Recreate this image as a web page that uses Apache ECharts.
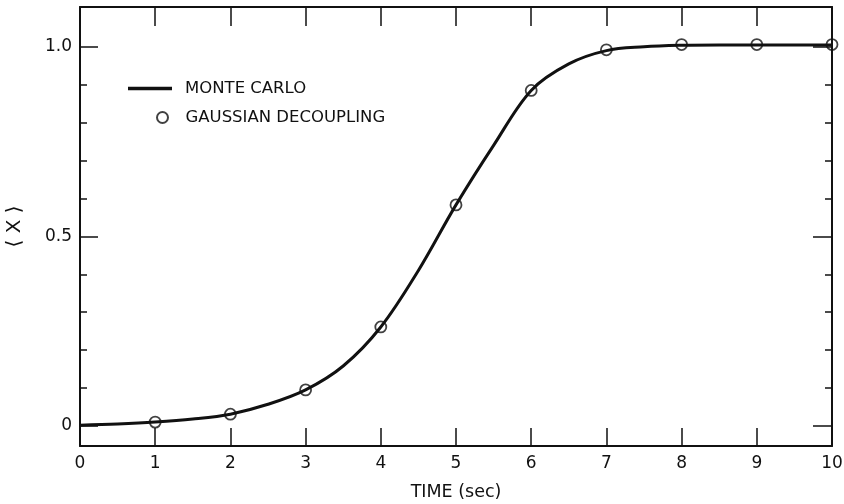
<!DOCTYPE html>
<html>
<head>
<meta charset="utf-8">
<title>&lt;X&gt; vs time</title>
<script src="https://cdn.jsdelivr.net/npm/echarts@6/dist/echarts.min.js"></script>
<style>
  html, body { margin: 0; padding: 0; background: #fff; }
  #chart { width: 844px; height: 504px; }
</style>
</head>
<body>
<div id="chart"></div>
<script>
// Monte Carlo mean <X>(t), sampled every 0.5 s
const mcTime = [0, 0.5, 1, 1.5, 2, 2.5, 3, 3.5, 4, 4.5, 5, 5.5, 6, 6.5, 7, 7.5, 8, 8.5, 9, 9.5, 10];
const mcMean = [0.002, 0.005, 0.010, 0.018, 0.031, 0.057, 0.095, 0.158, 0.261, 0.410, 0.583, 0.740, 0.885, 0.955, 0.990, 1.000, 1.004, 1.005, 1.005, 1.005, 1.005];

// Gaussian decoupling approximation, one point per second
const gdTime = [1, 2, 3, 4, 5, 6, 7, 8, 9, 10];
const gdMean = [0.010, 0.031, 0.095, 0.261, 0.583, 0.885, 0.992, 1.006, 1.006, 1.006];

// Axis ticks
const yMajorTicks = [0, 0.5, 1.0];
const yMinorTicks = [0.1, 0.2, 0.3, 0.4, 0.6, 0.7, 0.8, 0.9];
const Y_MIN = -0.053, Y_MAX = 1.105;

const INK = '#111';
const FONT = 'DejaVu Sans';

const mcData = mcTime.map((t, i) => [t, mcMean[i]]);
const gdData = gdTime.map((t, i) => [t, gdMean[i]]);

function yAxisDef(position, ticks, len, withLine, withLabels) {
  return {
    type: 'value', position, min: Y_MIN, max: Y_MAX,
    axisLine: { show: withLine, onZero: false, lineStyle: { color: INK, width: 2 } },
    axisTick: { show: true, inside: true, length: len, customValues: ticks,
                lineStyle: { color: INK, width: 1.5 } },
    axisLabel: withLabels ? {
      show: true, customValues: yMajorTicks, margin: 8,
      color: INK, fontFamily: FONT, fontSize: 17,
      formatter: v => (v === 0 ? '0' : v.toFixed(1))
    } : { show: false },
    splitLine: { show: false }
  };
}

const chart = echarts.init(document.getElementById('chart'), null, { renderer: 'canvas' });
chart.setOption({
  animation: false,
  backgroundColor: '#fff',
  grid: { left: 80, right: 12, top: 7, bottom: 58, outerBoundsMode: 'none', containLabel: false },
  legend: [
    {
      data: [{ name: 'MONTE CARLO', icon: 'rect' }],
      left: 123, top: 75, orient: 'vertical',
      itemWidth: 44, itemHeight: 3.5,
      textStyle: { color: INK, fontFamily: FONT, fontSize: 16.5, padding: [0, 0, 0, 8] }
    },
    {
      data: ['GAUSSIAN DECOUPLING'],
      left: 151, top: 104, orient: 'vertical',
      itemWidth: 12, itemHeight: 11,
      textStyle: { color: INK, fontFamily: FONT, fontSize: 16.5, padding: [0, 0, 0, 12] }
    }
  ],
  xAxis: [
    {
      type: 'value', position: 'bottom', min: 0, max: 10, interval: 1,
      name: 'TIME (sec)', nameLocation: 'middle', nameGap: 37,
      nameTextStyle: { color: INK, fontFamily: FONT, fontSize: 17.5 },
      axisLine: { onZero: false, lineStyle: { color: INK, width: 2 } },
      axisTick: { inside: true, length: 18, lineStyle: { color: INK, width: 1.5 } },
      axisLabel: { color: INK, fontFamily: FONT, fontSize: 17, margin: 9 },
      splitLine: { show: false }
    },
    {
      type: 'value', position: 'top', min: 0, max: 10, interval: 1,
      axisLine: { onZero: false, lineStyle: { color: INK, width: 2 } },
      axisTick: { inside: true, length: 19, lineStyle: { color: INK, width: 1.5 } },
      axisLabel: { show: false },
      splitLine: { show: false }
    }
  ],
  yAxis: [
    Object.assign(yAxisDef('left', yMajorTicks, 18, true, true), {
      name: '\u27E8 X \u27E9', nameLocation: 'middle', nameGap: 55,
      nameTextStyle: { color: INK, fontFamily: FONT, fontSize: 20 }
    }),
    yAxisDef('left', yMinorTicks, 7, false, false),
    yAxisDef('right', yMajorTicks, 19, true, false),
    yAxisDef('right', yMinorTicks, 7, false, false)
  ],
  series: [
    {
      name: 'MONTE CARLO', type: 'line', data: mcData,
      xAxisIndex: 0, yAxisIndex: 0,
      smooth: 0.35, showSymbol: false, symbol: 'none',
      lineStyle: { color: INK, width: 3 },
      itemStyle: { color: INK },
      z: 2
    },
    {
      name: 'GAUSSIAN DECOUPLING', type: 'scatter', data: gdData,
      xAxisIndex: 0, yAxisIndex: 0,
      symbol: 'circle', symbolSize: 11,
      itemStyle: { color: 'rgba(255,255,255,0)', borderColor: INK, borderWidth: 1.8 },
      z: 3
    }
  ]
});
</script>
</body>
</html>
